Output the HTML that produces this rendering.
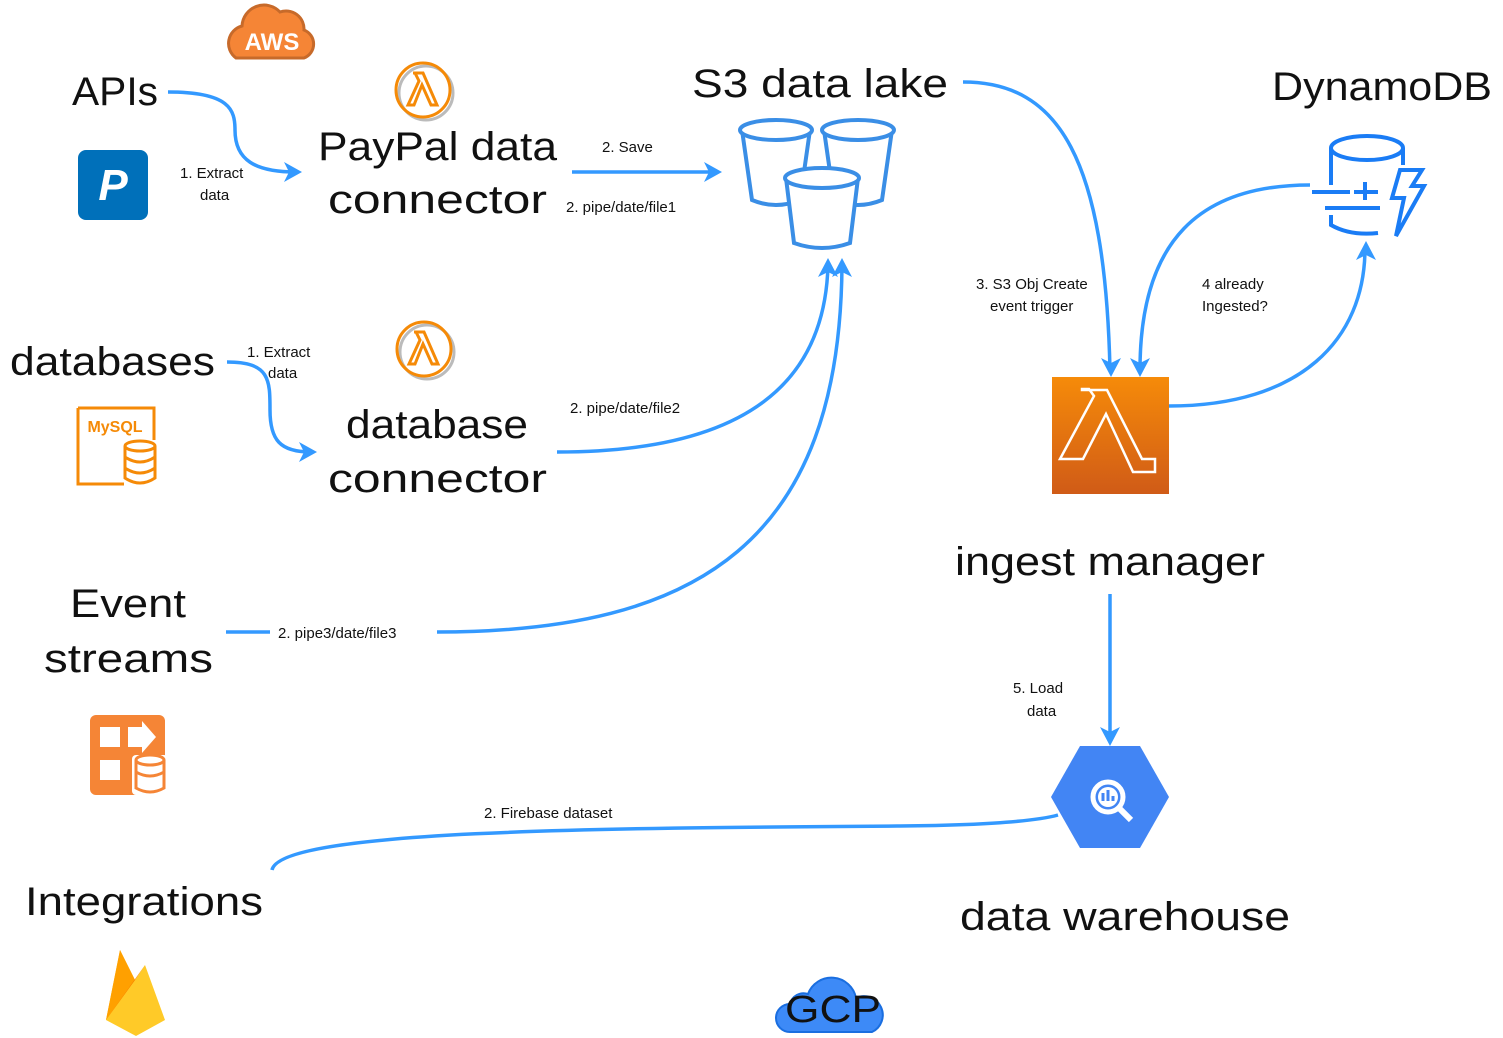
<!DOCTYPE html>
<html><head><style>
body{margin:0;background:#fff;}
svg{display:block;font-family:"Liberation Sans",sans-serif;}
.big{font-size:40px;fill:#111;}
.sm{font-size:15px;fill:#111;}
.c{fill:none;stroke:#3399ff;stroke-width:3.5;}
</style></head><body>
<svg width="1503" height="1038" viewBox="0 0 1503 1038" xmlns="http://www.w3.org/2000/svg">
<defs>
<marker id="a" markerWidth="10" markerHeight="10" refX="8" refY="5" orient="auto" markerUnits="userSpaceOnUse" viewBox="0 0 10 10">
</marker>
</defs>
<!-- AWS cloud -->
<g>
<path d="M236,58 a18,18 0 0 1 6,-32 a22,22 0 0 1 38,-14 a18,18 0 0 1 24,18 a15,15 0 0 1 0,28 z" fill="#f58536" stroke="#c76a2a" stroke-width="3"/>
<text x="272" y="50" font-size="24" font-weight="bold" fill="#fff" text-anchor="middle">AWS</text>
</g>
<!-- text labels -->
<text class="big" x="72" y="105" textLength="86" lengthAdjust="spacingAndGlyphs">APIs</text>
<text class="big" x="318" y="160" textLength="239" lengthAdjust="spacingAndGlyphs">PayPal data</text>
<text class="big" x="328" y="213" textLength="219" lengthAdjust="spacingAndGlyphs">connector</text>
<text class="big" x="692" y="97" textLength="256" lengthAdjust="spacingAndGlyphs">S3 data lake</text>
<text class="big" x="1272" y="100" textLength="220" lengthAdjust="spacingAndGlyphs">DynamoDB</text>
<text class="big" x="10" y="375" textLength="205" lengthAdjust="spacingAndGlyphs">databases</text>
<text class="big" x="346" y="438" textLength="182" lengthAdjust="spacingAndGlyphs">database</text>
<text class="big" x="328" y="492" textLength="219" lengthAdjust="spacingAndGlyphs">connector</text>
<text class="big" x="955" y="575" textLength="310" lengthAdjust="spacingAndGlyphs">ingest manager</text>
<text class="big" x="70" y="617" textLength="116" lengthAdjust="spacingAndGlyphs">Event</text>
<text class="big" x="44" y="672" textLength="169" lengthAdjust="spacingAndGlyphs">streams</text>
<text class="big" x="25" y="915" textLength="238" lengthAdjust="spacingAndGlyphs">Integrations</text>
<text class="big" x="960" y="930" textLength="330" lengthAdjust="spacingAndGlyphs">data warehouse</text>

<!-- small labels -->
<text class="sm" x="180" y="178">1. Extract</text>
<text class="sm" x="200" y="200">data</text>
<text class="sm" x="602" y="152">2. Save</text>
<text class="sm" x="566" y="212">2. pipe/date/file1</text>
<text class="sm" x="247" y="357">1. Extract</text>
<text class="sm" x="268" y="378">data</text>
<text class="sm" x="570" y="413">2. pipe/date/file2</text>
<text class="sm" x="976" y="289">3. S3 Obj Create</text>
<text class="sm" x="990" y="311">event trigger</text>
<text class="sm" x="1202" y="289">4 already</text>
<text class="sm" x="1202" y="311">Ingested?</text>
<text class="sm" x="1013" y="693">5. Load</text>
<text class="sm" x="1027" y="716">data</text>
<text class="sm" x="484" y="818">2. Firebase dataset</text>
<text class="sm" x="278" y="638">2. pipe3/date/file3</text>

<!-- connectors -->
<path class="c" d="M168,92 C230,92 235,110 235,130 C235,160 255,172 296,172"/>
<path d="M302,172 L284,162 L289,172 L284,182 Z" fill="#3399ff"/>
<path class="c" d="M572,172 L716,172"/>
<path d="M722,172 L704,162 L709,172 L704,182 Z" fill="#3399ff"/>
<path class="c" d="M963,82 C1060,82 1105,160 1110,370"/>
<path d="M1111,377 L1101,358 L1111,363 L1121,358 Z" fill="#3399ff"/>
<path class="c" d="M1310,185 C1200,185 1140,240 1140,370"/>
<path d="M1140,377 L1130,358 L1140,363 L1150,358 Z" fill="#3399ff"/>
<path class="c" d="M1169,406 C1300,406 1365,340 1365,248"/>
<path d="M1366,241 L1356,260 L1366,255 L1376,260 Z" fill="#3399ff"/>
<path class="c" d="M227,362 C270,362 270,380 270,410 C270,440 280,452 311,452"/>
<path d="M317,452 L299,442 L304,452 L299,462 Z" fill="#3399ff"/>
<path class="c" d="M557,452 C750,452 825,380 828,265"/>
<path d="M828,258 L818,277 L828,272 L838,277 Z" fill="#3399ff"/>
<path class="c" d="M226,632 L270,632"/>
<path class="c" d="M437,632 C700,632 840,540 842,265"/>
<path d="M842,258 L832,277 L842,272 L852,277 Z" fill="#3399ff"/>
<path class="c" d="M1110,594 L1110,740"/>
<path d="M1110,746 L1100,727 L1110,732 L1120,727 Z" fill="#3399ff"/>
<path class="c" d="M272,870 C280,830 600,828 900,826 C1000,825 1040,820 1058,815"/>

<!-- PayPal icon -->
<rect x="78" y="150" width="70" height="70" rx="8" fill="#0070ba"/>
<text x="113" y="200" font-size="44" font-weight="bold" font-style="italic" fill="#fff" text-anchor="middle">P</text>
<!-- lambda circle icons -->
<g fill="none" stroke="#f58a07" stroke-width="3">
<circle cx="426" cy="93" r="27" stroke="#bbb"/>
<circle cx="423" cy="90" r="27"/>
<path d="M413,73 h10 l14,32 h-6 l-9,-20 l-8,20 h-6 l11,-24 l-4,-8 z"/>
<circle cx="427" cy="352" r="27" stroke="#bbb"/>
<circle cx="424" cy="349" r="27"/>
<path d="M414,332 h10 l14,32 h-6 l-9,-20 l-8,20 h-6 l11,-24 l-4,-8 z"/>
</g>
<!-- S3 buckets -->
<g fill="#fff" stroke="#3a8ee6" stroke-width="4">
<path d="M742,130 L752,200 Q776,210 800,200 L810,130"/>
<ellipse cx="776" cy="130" rx="36" ry="10"/>
<path d="M824,130 L834,200 Q858,210 882,200 L892,130"/>
<ellipse cx="858" cy="130" rx="36" ry="10"/>
<path d="M786,178 L794,243 Q822,253 850,243 L858,178"/>
<ellipse cx="822" cy="178" rx="37" ry="10"/>
</g>
<!-- Dynamo icon -->
<g fill="none" stroke="#1a7cf5" stroke-width="4">
<ellipse cx="1367" cy="148" rx="36" ry="12"/>
<path d="M1331,148 V185 M1403,148 V165 M1331,215 V225 Q1350,236 1378,233"/>
<path d="M1312,192 H1350 M1325,208 H1380 M1354,192 H1378 M1365,182 V200"/>
<path d="M1400,170 h22 l-10,16 h12 l-28,50 l8,-38 h-12 z"/>
</g>
<!-- MySQL icon -->
<g fill="none" stroke="#f58a07" stroke-width="3">
<path d="M78,408 h76 v32 M78,408 v76 h46"/>
<ellipse cx="140" cy="446" rx="15" ry="5"/>
<path d="M125,446 v32 q15,10 30,0 v-32 M125,457 q15,10 30,0 M125,468 q15,10 30,0"/>
</g>
<text x="115" y="432" font-size="16" font-weight="bold" fill="#f58a07" text-anchor="middle">MySQL</text>
<!-- Big lambda -->
<defs><linearGradient id="lg" x1="0" y1="0" x2="0" y2="1"><stop offset="0" stop-color="#f68b09"/><stop offset="1" stop-color="#d05b17"/></linearGradient></defs>
<rect x="1052" y="377" width="117" height="117" fill="url(#lg)"/>
<path d="M1082,390 h25 l35,69 h13 v13 h-22 l-27,-58 l-23,45 l-23,0 l34,-63 l-5,-7 h-7 z" fill="none" stroke="#fff" stroke-width="2.5"/>
<!-- Event icon -->
<g fill="#f58536">
<rect x="90" y="715" width="75" height="80" rx="6"/>
</g>
<g fill="#fff">
<rect x="100" y="727" width="20" height="20"/>
<rect x="100" y="760" width="20" height="20"/>
<path d="M128,727 h14 v-6 l14,16 l-14,16 v-6 h-14 z"/>
<rect x="132" y="755" width="36" height="40" rx="4"/>
</g>
<g fill="none" stroke="#f58536" stroke-width="3"><ellipse cx="150" cy="760" rx="14" ry="5"/><path d="M136,760 v28 q14,8 28,0 v-28 M136,772 q14,8 28,0"/></g>
<!-- BigQuery -->
<path d="M1080,746 h60 l29,51 l-29,51 h-60 l-29,-51 z" fill="#4285f4"/>
<circle cx="1108" cy="797" r="15" fill="none" stroke="#fff" stroke-width="5"/>
<path d="M1119,808 l12,12" stroke="#fff" stroke-width="6"/>
<path d="M1102,792 v10 M1108,788 v14 M1114,795 v7" stroke="#4285f4" stroke-width="3"/>
<circle cx="1108" cy="797" r="10" fill="#fff"/>
<path d="M1103,793 v8 M1108,790 v11 M1113,796 v5" stroke="#4285f4" stroke-width="3"/>
<!-- Firebase -->
<path d="M106,1020 L120,950 L135,980 L145,965 L165,1020 L136,1036 Z" fill="#ffca28"/>
<path d="M106,1020 L120,950 L135,980 Z" fill="#ffa000"/>
<path d="M106,1020 L145,965 L135,980 Z" fill="#f57c00"/>
<!-- GCP cloud -->
<path d="M790,1032 a14,14 0 0 1 0,-28 a14,14 0 0 1 18,-10 a25,25 0 0 1 48,4 a16,16 0 0 1 16,34 z" fill="#3d8af7" stroke="#1a6ee0" stroke-width="2"/>
<text x="833" y="1022" font-size="38" fill="#111" text-anchor="middle" textLength="96" lengthAdjust="spacingAndGlyphs">GCP</text>
</svg>
</body></html>
